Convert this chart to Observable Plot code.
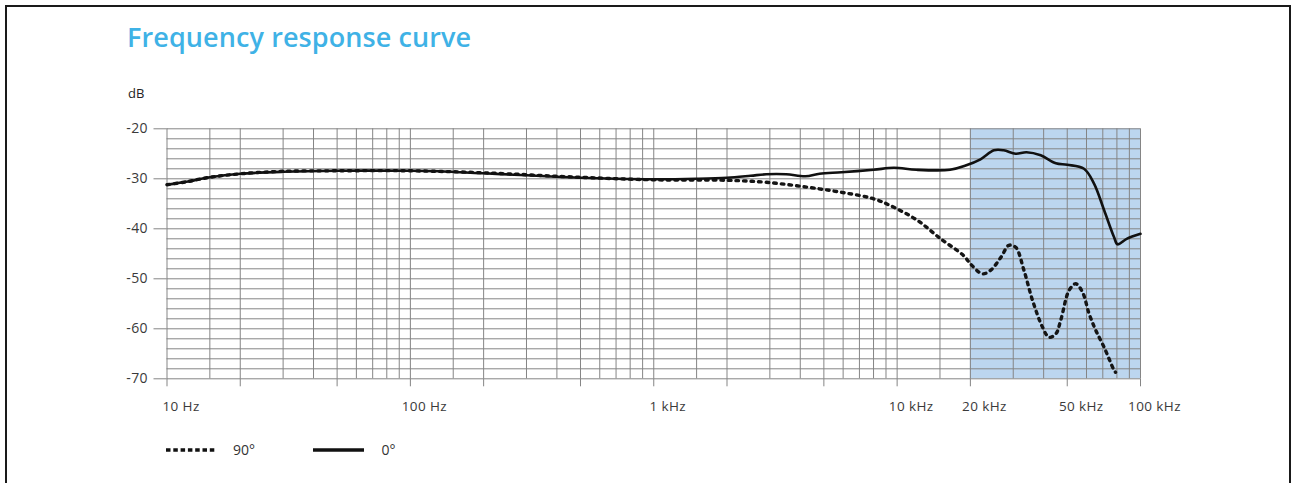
<!DOCTYPE html>
<html>
<head>
<meta charset="utf-8">
<script src="https://cdn.jsdelivr.net/npm/d3@7"></script>
<script src="https://cdn.jsdelivr.net/npm/@observablehq/plot@0.6"></script>
<style>
  html, body { margin: 0; padding: 0; background: #fff; }
  body { width: 1295px; height: 483px; position: relative; overflow: hidden; font-family: "Open Sans", sans-serif; }
  #frame { position: absolute; left: 5px; top: 5px; width: 1286px; height: 500px; border: 2px solid #1a1a1a; box-sizing: border-box; }
  #title { position: absolute; left: 127px; top: 23px; font-size: 27px; line-height: 27px; font-weight: 600; color: #3fb2e6; letter-spacing: 0.1px; }
  #unit { position: absolute; left: 128px; top: 85px; font-size: 13px; line-height: 16px; color: #222; }
  #chart { position: absolute; left: 0; top: 80px; }
  #legend { position: absolute; left: 0; top: 440px; width: 600px; height: 20px; }
  .lg { position: absolute; font-size: 14px; line-height: 20px; color: #333; top: 0; }
</style>
</head>
<body>
<div id="frame"></div>
<div id="title">Frequency response curve</div>
<div id="unit">dB</div>
<div id="chart"></div>
<div id="legend"></div>
<script>
// ---- data ----
const freq0 = [10, 12, 15, 20, 30, 50, 100, 130, 200, 300, 500, 700, 1000, 1500, 2000, 2500, 2900, 3500, 4200, 4800, 5900, 8000, 9700, 12000, 16500, 19000, 22000, 25000, 27400, 30700, 34000, 38900, 44900, 50000, 58600, 64500, 70900, 77900, 80500, 87700, 100000];
const db0   = [-31.2, -30.6, -29.7, -29.0, -28.6, -28.4, -28.4, -28.5, -28.9, -29.3, -29.8, -30.0, -30.1, -30.0, -29.8, -29.4, -29.1, -29.1, -29.5, -29.0, -28.7, -28.2, -27.8, -28.2, -28.2, -27.4, -26.1, -24.3, -24.3, -25.0, -24.7, -25.3, -26.9, -27.2, -28.0, -31.0, -36.3, -41.7, -43.1, -42.0, -41.0];

const freq90 = [10, 12, 15, 20, 30, 50, 100, 200, 500, 1000, 2000, 2900, 4300, 5900, 8000, 9700, 12100, 15100, 18800, 20000, 22400, 24200, 26700, 28800, 30700, 33200, 36000, 39600, 42100, 44900, 47000, 50900, 54200, 57800, 61500, 65500, 70900, 77900, 79000];
const db90   = [-31.2, -30.6, -29.7, -29.0, -28.5, -28.4, -28.4, -28.8, -29.7, -30.2, -30.3, -30.7, -31.7, -32.7, -34.0, -35.7, -38.3, -42.0, -45.4, -47.0, -49.0, -48.3, -45.7, -43.3, -43.7, -48.3, -54.3, -59.7, -61.7, -61.0, -58.3, -52.3, -51.0, -52.7, -57.0, -60.3, -63.7, -68.3, -68.7];

const seriesNames = ["90°", "0°"];
const yTicks = [-20, -30, -40, -50, -60, -70];
const yGrid = d3.range(-70, -19, 2);
const xGridMantissas = [1, 1.5, 2, 3, 4, 5, 6, 7, 8, 9];
const xDecades = [10, 100, 1000, 10000];
const xTickMarks = [10, 20, 50, 100, 200, 500, 1000, 2000, 5000, 10000, 20000, 50000, 100000];
const xLabelTicks = [10, 100, 1000, 10000, 20000, 50000, 100000];
const xLabelTexts = ["10 Hz", "100 Hz", "1 kHz", "10 kHz", "20 kHz", "50 kHz", "100 kHz"];
const shadeBand = [{from: 20000, to: 100000}];

// ---- build ----
const xGrid = xDecades.flatMap(d => xGridMantissas.map(m => d * m)).concat([100000]);
const rows0 = freq0.map((f, i) => ({f, db: db0[i]}));
const rows90 = freq90.map((f, i) => ({f, db: db90[i]}));
const xLabels = xLabelTicks.map((f, i) => ({f, text: xLabelTexts[i]}));

const gridColor = "#858585";
const chart = Plot.plot({
  width: 1295,
  height: 340,
  marginLeft: 166.5,
  marginRight: 155,
  marginTop: 48.3,
  marginBottom: 41.7,
  style: {fontFamily: "'Open Sans', sans-serif", color: "#3a3a3a", background: "transparent"},
  x: {type: "log", domain: [10, 100000], axis: null},
  y: {domain: [-70, -20], axis: null},
  marks: [
    Plot.rect(shadeBand, {x1: "from", x2: "to", fill: "#bcd6ef"}),
    Plot.gridY(yGrid, {stroke: gridColor, strokeOpacity: 1, strokeWidth: 1}),
    Plot.gridX(xGrid, {stroke: gridColor, strokeOpacity: 1, strokeWidth: 1}),
    Plot.axisY(yTicks, {anchor: "left", tickSize: 13, tickPadding: 6, stroke: gridColor, tickFormat: d => "-" + Math.abs(d), fontSize: 14, label: null}),
    Plot.axisX(xTickMarks, {anchor: "bottom", tickSize: 8, stroke: gridColor, tickFormat: () => "", label: null}),
    Plot.text(xLabels, {x: "f", text: "text", frameAnchor: "bottom", textAnchor: "middle", lineAnchor: "middle", dx: 14, dy: 28, fontSize: 13.5, fill: "#3a3a3a"}),
    Plot.line(rows90, {x: "f", y: "db", curve: "catmull-rom", stroke: "#151515", strokeWidth: 3.4, strokeDasharray: "2.6 5"}),
    Plot.line(rows0, {x: "f", y: "db", curve: "catmull-rom", stroke: "#111", strokeWidth: 2.6})
  ]
});
chart.querySelectorAll("text").forEach(t => t.setAttribute("letter-spacing", "0.4"));
document.getElementById("chart").appendChild(chart);

// ---- legend ----
const legend = document.getElementById("legend");
const styles = [
  {x: 165.5, dash: "4.5 2.8", tx: 233},
  {x: 312.5, dash: null, tx: 381.5}
];
seriesNames.forEach((name, i) => {
  const s = styles[i];
  const svg = d3.create("svg").attr("width", 52).attr("height", 20)
    .style("position", "absolute").style("left", s.x + "px").style("top", "0px");
  svg.append("line").attr("x1", 0).attr("x2", 51).attr("y1", 10).attr("y2", 10)
    .attr("stroke", "#111").attr("stroke-width", 3.6)
    .attr("stroke-dasharray", s.dash);
  legend.appendChild(svg.node());
  const t = document.createElement("div");
  t.className = "lg";
  t.style.left = s.tx + "px";
  t.textContent = name;
  legend.appendChild(t);
});
</script>
</body>
</html>
